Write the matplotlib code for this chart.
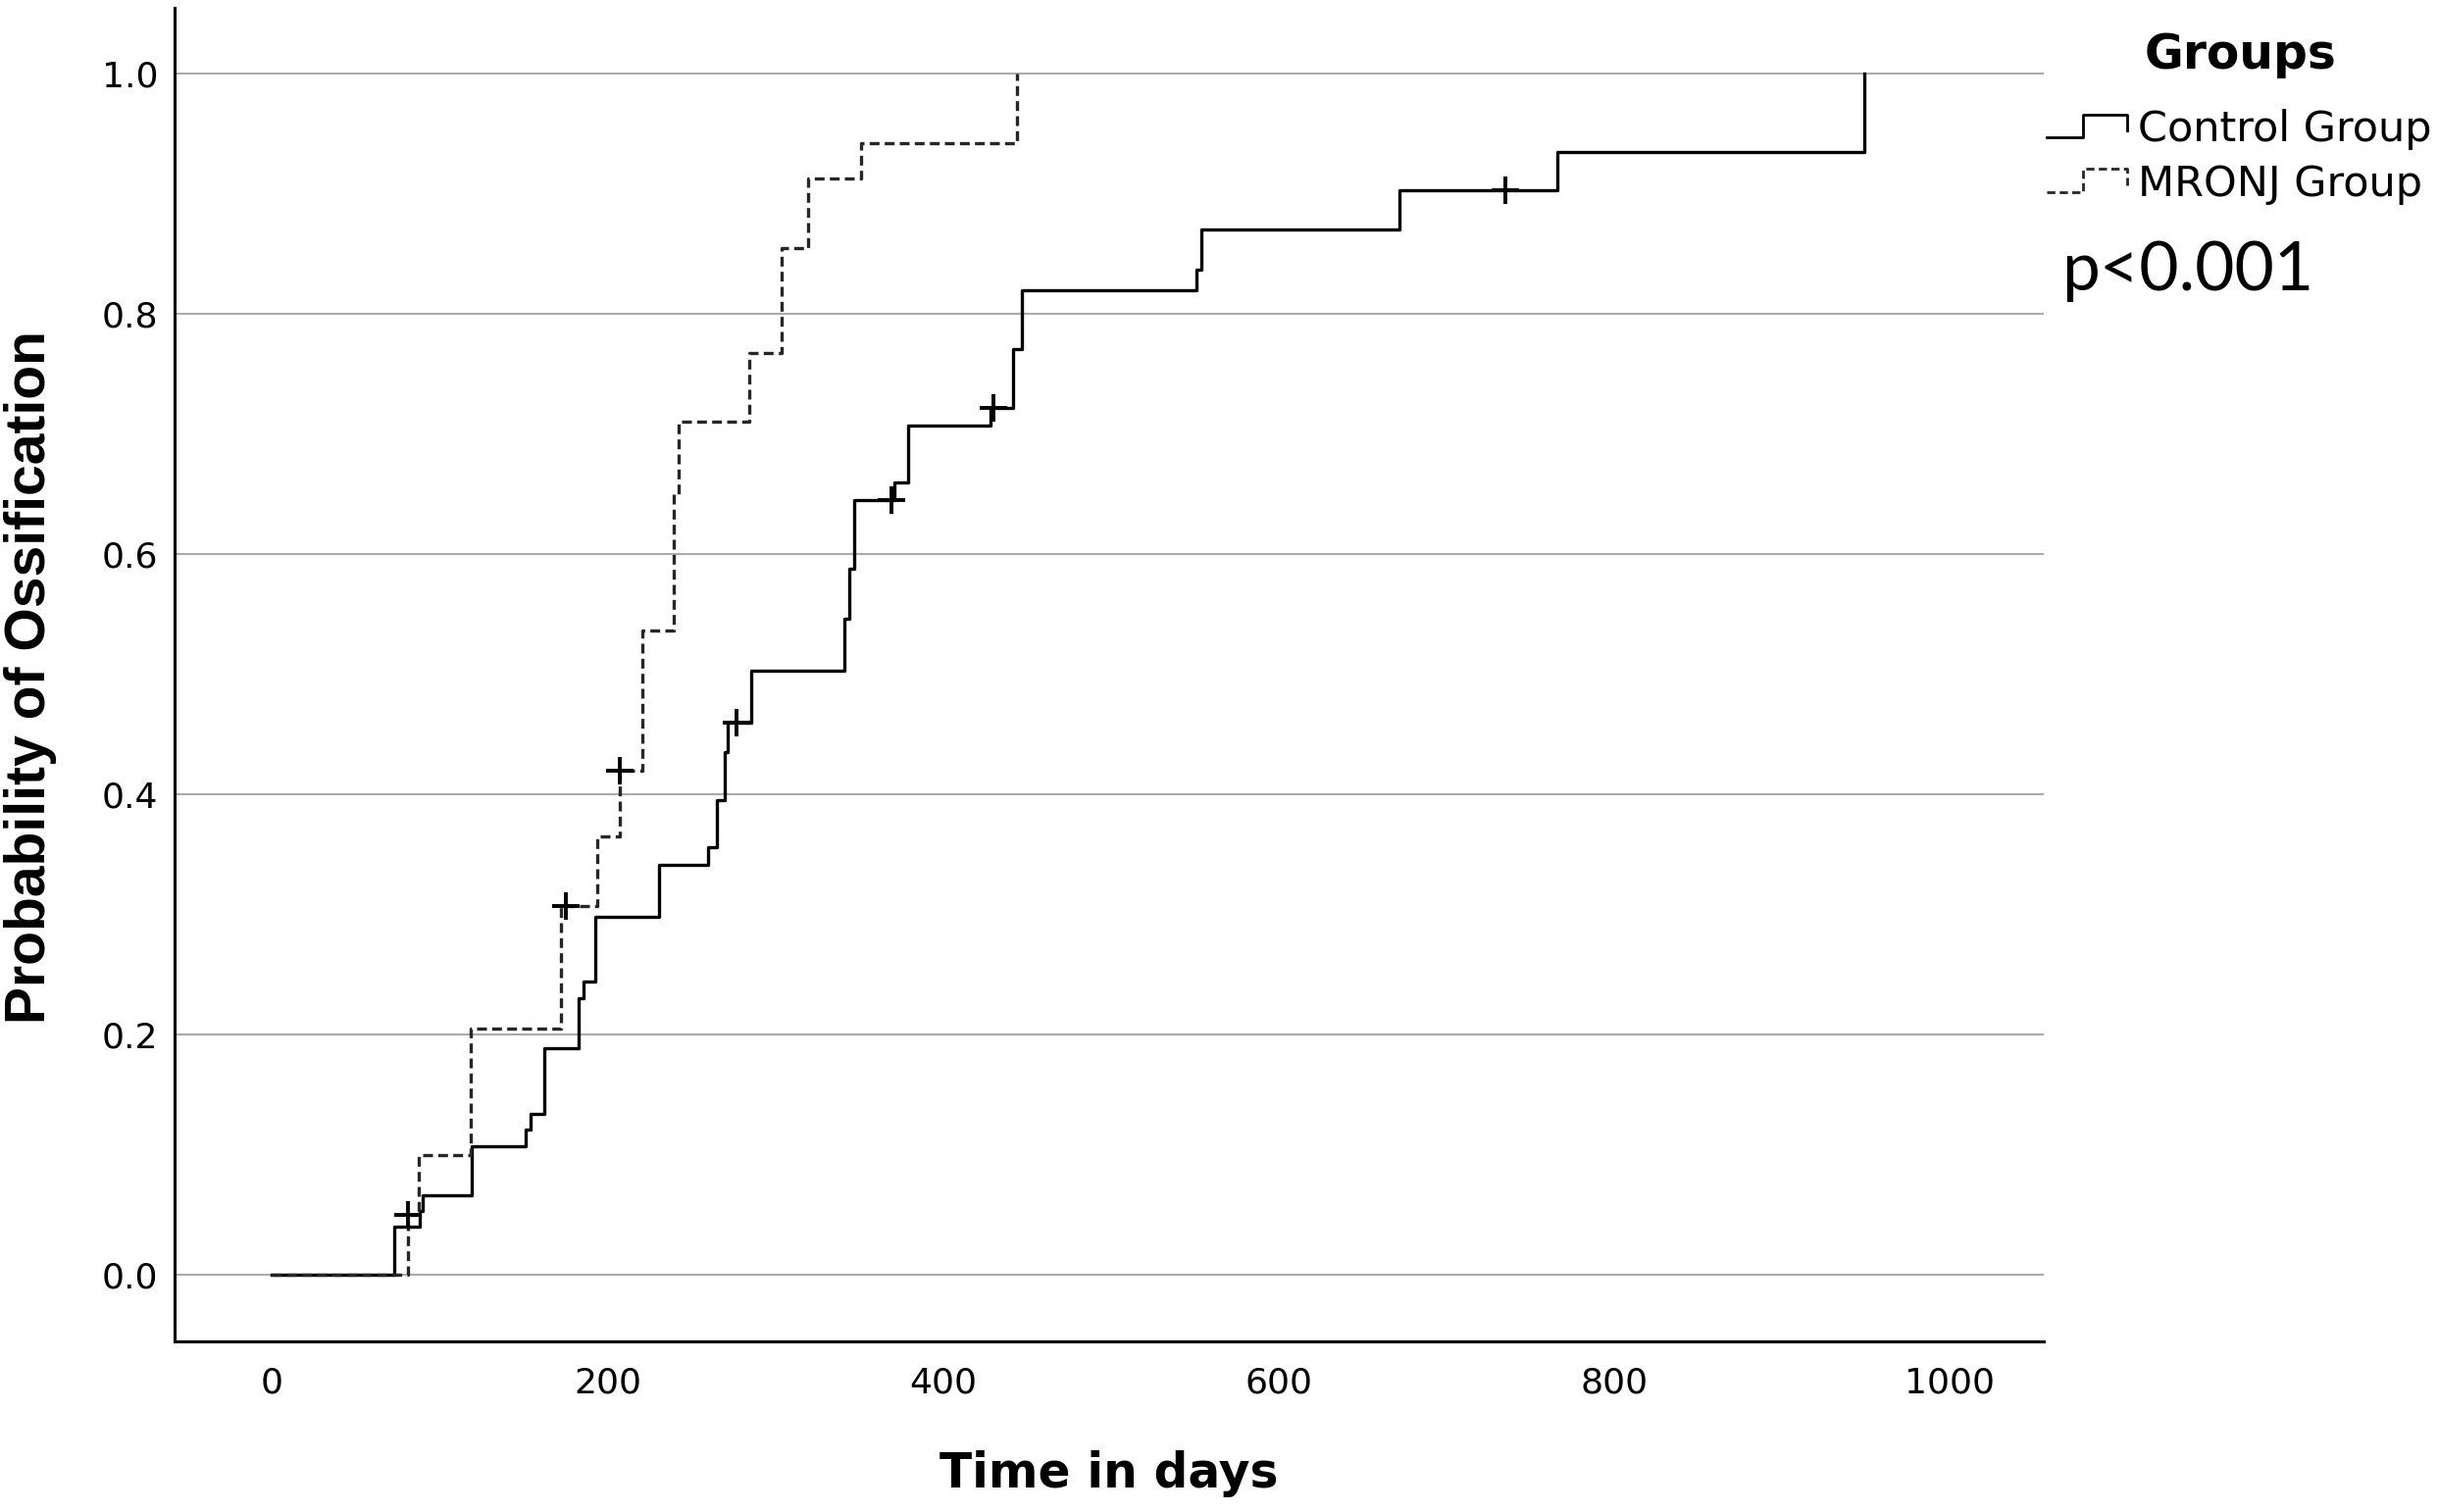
import numpy as np
import matplotlib
matplotlib.use('Agg')
import matplotlib.pyplot as plt
from matplotlib.legend_handler import HandlerBase
from matplotlib.lines import Line2D

# Kaplan-Meier style cumulative curves
control_days = [0, 73, 88, 90, 119, 151, 154, 162.5, 183, 186, 193, 231, 260, 265,
                270, 271.5, 285.5, 341, 344, 347, 371, 379, 428, 442, 447, 551, 554,
                672, 766, 949]
control_prob = [0.0, 0.040, 0.053, 0.066, 0.107, 0.121, 0.134, 0.189, 0.230, 0.244,
                0.298, 0.341, 0.356, 0.395, 0.435, 0.460, 0.503, 0.546, 0.588, 0.645,
                0.660, 0.707, 0.722, 0.771, 0.820, 0.837, 0.870, 0.903, 0.935, 1.0]
control_censor_days = [277, 369, 430, 735]
control_censor_prob = [0.460, 0.645, 0.722, 0.903]

mronj_days = [0, 81, 87.5, 118.6, 172, 193.7, 207.4, 221, 239.5, 242.3, 284.6, 304,
              319.3, 351.4, 444]
mronj_prob = [0.0, 0.050, 0.100, 0.205, 0.307, 0.365, 0.420, 0.536, 0.650, 0.710,
              0.767, 0.855, 0.913, 0.942, 1.0]
mronj_censor_days = [81, 175, 207.4]
mronj_censor_prob = [0.050, 0.307, 0.420]

x_ticks = [0, 200, 400, 600, 800, 1000]
y_ticks = [0.0, 0.2, 0.4, 0.6, 0.8, 1.0]

COLORS = {
    "control": "#000000",
    "mronj": "#262626",
    "grid": "#ababab",
    "text": "#000000",
}


class StepHandler(HandlerBase):
    """Legend key drawn as a little step, like SPSS does."""
    def create_artists(self, legend, orig_handle, xdescent, ydescent,
                       width, height, fontsize, trans):
        xs = np.array([0.0, 0.45, 0.45, 1.0, 1.0]) * width - xdescent
        ys = np.array([0.2, 0.2, 0.85, 0.85, 0.4]) * height - ydescent
        line = Line2D(xs, ys)
        line.update_from(orig_handle)
        line.set_drawstyle("default")
        line.set_linewidth(2.0)
        line.set_clip_on(False)
        line.set_clip_box(None)
        line.set_transform(trans)
        return [line]


fig = plt.figure(figsize=(24.86, 15.42), dpi=100)
ax = fig.add_axes([0.0716, 0.1128, 0.7667, 0.882])

ax.set_axisbelow(True)
for y in y_ticks:
    ax.axhline(y, color=COLORS["grid"], lw=1.5, zorder=1)

l_control, = ax.step(control_days, control_prob, where="post",
                     color=COLORS["control"], lw=2.4, zorder=3,
                     label="Control Group")
l_mronj, = ax.step(mronj_days, mronj_prob, where="post",
                   color=COLORS["mronj"], lw=2.4, zorder=3,
                   linestyle=(0, (3.0, 1.6)), label="MRONJ Group")

ax.plot(control_censor_days, control_censor_prob, linestyle="none", marker="+",
        ms=20, mew=2.8, color=COLORS["control"], zorder=4)
ax.plot(mronj_censor_days, mronj_censor_prob, linestyle="none", marker="+",
        ms=20, mew=2.8, color=COLORS["control"], zorder=4)

ax.set_xlim(-58, 1056)
ax.set_ylim(-0.0555, 1.0547)
ax.set_xticks(x_ticks)
ax.set_yticks(y_ticks)
ax.set_yticklabels([f"{v:.1f}" for v in y_ticks])

for side in ("top", "right"):
    ax.spines[side].set_visible(False)
for side in ("left", "bottom"):
    ax.spines[side].set_linewidth(2.2)
    ax.spines[side].set_color("black")

ax.tick_params(axis="both", length=0, labelsize=26, colors=COLORS["text"])
ax.tick_params(axis="x", pad=18)
ax.tick_params(axis="y", pad=12)

ax.set_xlabel("Time in days", fontsize=35, fontweight="bold",
              family=["DejaVu Sans"], va="center")
ax.xaxis.set_label_coords(0.5, -0.099)
ax.set_ylabel("Probability of Ossification", fontsize=41, fontweight="bold",
              family=["Liberation Sans", "DejaVu Sans"], va="center")
ax.yaxis.set_label_coords(-0.077, 0.4985)

fig.text(0.9188, 0.9639, "Groups", fontsize=35, fontweight="bold",
         ha="center", va="center", color=COLORS["text"])

leg = fig.legend(handles=[l_control, l_mronj], loc="upper left",
                 bbox_to_anchor=(0.8395, 0.928), frameon=False,
                 fontsize=31, handlelength=1.9, handleheight=0.9,
                 handletextpad=0.25, labelspacing=0.32, borderpad=0,
                 borderaxespad=0, handler_map={Line2D: StepHandler()})

fig.text(0.8455, 0.808, "p<0.001", fontsize=50, family=["Lato", "DejaVu Sans"],
         ha="left", va="baseline", color=COLORS["text"])

fig.savefig("out.png", dpi=100, facecolor="white")
plt.close(fig)
